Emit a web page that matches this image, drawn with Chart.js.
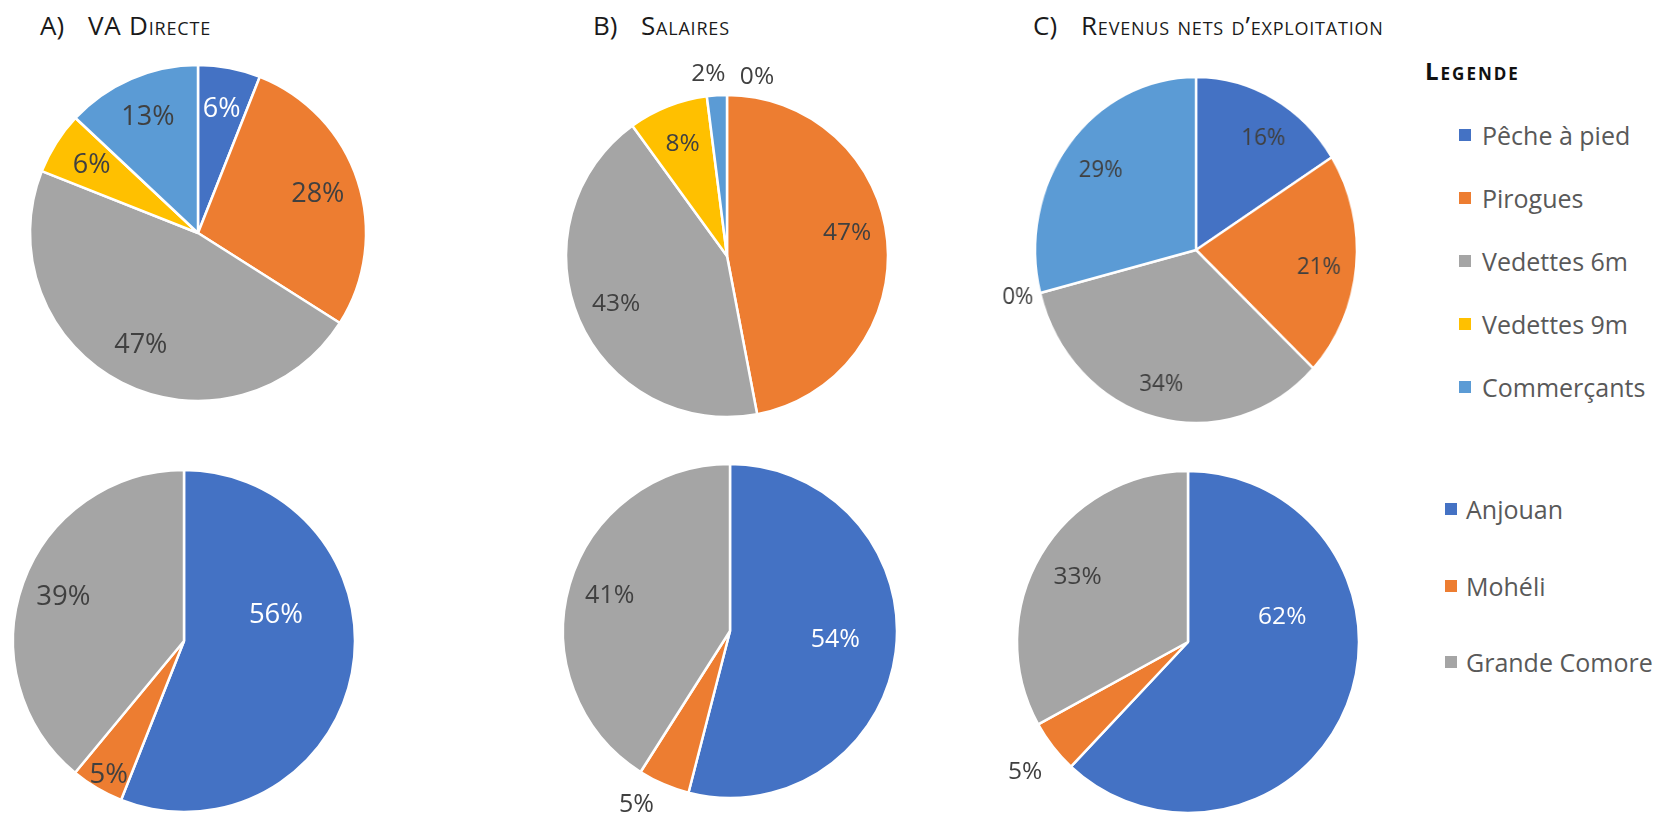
<!DOCTYPE html>
<html lang="fr">
<head>
<meta charset="utf-8">
<title>Répartition par activité et par île</title>
<script src="https://cdn.jsdelivr.net/npm/chart.js@4/dist/chart.umd.min.js"></script>
<style>
  html, body {
    margin: 0;
    padding: 0;
    background: #fff;
    width: 1656px;
    height: 815px;
    overflow: hidden;
    position: relative;
    font-family: "Open Sans", sans-serif;
  }
  canvas {
    position: absolute;
  }
  .titre {
    position: absolute;
    top: 12px;
    font-size: 26px;
    line-height: 26px;
    color: #1a1a1a;
    white-space: nowrap;
  }
  .titre .nom {
    font-variant: small-caps;
    letter-spacing: 0.8px;
  }
  .legende {
    position: absolute;
    color: #595959;
    font-size: 25px;
  }
  .legende .entete {
    position: absolute;
    font-weight: bold;
    font-variant: small-caps;
    letter-spacing: 2px;
    color: #111;
    font-size: 24px;
    line-height: 24px;
    white-space: nowrap;
  }
  .legende .ligne {
    display: flex;
    align-items: center;
    white-space: nowrap;
  }
  .legende .carre {
    width: 12px;
    height: 12px;
    flex: none;
  }
</style>
</head>
<body>

<div class="titre" style="left:40px">A)</div>
<div class="titre" style="left:88px"><span class="nom">VA Directe</span></div>
<div class="titre" style="left:593px">B)</div>
<div class="titre" style="left:641px"><span class="nom">Salaires</span></div>
<div class="titre" style="left:1033px">C)</div>
<div class="titre" style="left:1081px"><span class="nom">Revenus nets d’exploitation</span></div>

<div class="legende" id="legende-activites" style="left:1459px; top:103px">
  <div class="entete" style="left:-34px; top:-44px">Legende</div>
</div>
<div class="legende" id="legende-iles" style="left:1445px; top:471px"></div>

<canvas id="pie-va-activites"></canvas>
<canvas id="pie-salaires-activites"></canvas>
<canvas id="pie-revenus-activites"></canvas>
<canvas id="pie-va-iles"></canvas>
<canvas id="pie-salaires-iles"></canvas>
<canvas id="pie-revenus-iles"></canvas>

<script>
// catégories
const activites = ["Pêche à pied", "Pirogues", "Vedettes 6m", "Vedettes 9m", "Commerçants"];
const iles = ["Anjouan", "Mohéli", "Grande Comore"];

// parts en % par activité
const vaDirecteActivites = [6, 28, 47, 6, 13];
const salairesActivites = [0, 47, 43, 8, 2];
const revenusActivites = [16, 21, 34, 0, 29];

// parts en % par île
const vaDirecteIles = [56, 5, 39];
const salairesIles = [54, 5, 41];
const revenusIles = [62, 5, 33];

const couleursActivites = ["#4472C4", "#ED7D31", "#A5A5A5", "#FFC000", "#5B9BD5"];
const couleursIles = ["#4472C4", "#ED7D31", "#A5A5A5"];

const CANVAS_SIZE = 440;

// étiquettes de pourcentage posées sur chaque part
const sliceLabels = {
  id: "sliceLabels",
  afterDatasetsDraw(chart, args, opts) {
    const { ctx } = chart;
    const meta = chart.getDatasetMeta(0);
    const values = chart.data.datasets[0].data;
    ctx.save();
    ctx.font = `${opts.size}px "Open Sans"`;
    ctx.textAlign = "center";
    ctx.textBaseline = "middle";
    meta.data.forEach((arc, i) => {
      const { x, y, startAngle, endAngle, outerRadius } = arc.getProps(
        ["x", "y", "startAngle", "endAngle", "outerRadius"],
        true
      );
      const mid = (startAngle + endAngle) / 2;
      const dx = Math.cos(mid);
      const dy = Math.sin(mid);
      const text = values[i] + "%";
      let px, py;
      if (opts.outside.includes(i)) {
        const w = ctx.measureText(text).width;
        const d = outerRadius + 8;
        px = x + dx * d + (dx * w) / 2;
        py = y + dy * d + dy * opts.size * 0.4;
      } else {
        px = x + dx * outerRadius * 0.75;
        py = y + dy * outerRadius * 0.75;
      }
      const nudge = opts.nudge[i] || [0, 0];
      ctx.fillStyle = opts.light.includes(i) ? "#ffffff" : "#404040";
      ctx.fillText(text, px + nudge[0], py + nudge[1]);
    });
    ctx.restore();
  },
};

function drawPie(id, labels, values, colors, cx, cy, radius, labelOpts) {
  const canvas = document.getElementById(id);
  canvas.width = CANVAS_SIZE;
  canvas.height = CANVAS_SIZE;
  canvas.style.left = cx - CANVAS_SIZE / 2 + "px";
  canvas.style.top = cy - CANVAS_SIZE / 2 + "px";

  return new Chart(canvas, {
    type: "pie",
    data: {
      labels: labels,
      datasets: [
        {
          data: values,
          backgroundColor: colors,
          borderColor: "#ffffff",
          borderWidth: 2.5,
        },
      ],
    },
    options: {
      responsive: false,
      animation: false,
      events: [],
      radius: radius,
      plugins: {
        legend: { display: false },
        tooltip: { enabled: false },
        sliceLabels: Object.assign({ outside: [], nudge: {}, light: [] }, labelOpts),
      },
    },
    plugins: [sliceLabels],
  });
}

drawPie("pie-va-activites", activites, vaDirecteActivites, couleursActivites, 198, 233, 168, {
  size: 27,
  light: [0],
});
drawPie("pie-salaires-activites", activites, salairesActivites, couleursActivites, 727, 256, 161, {
  size: 24.5,
  outside: [0, 4],
  nudge: { 0: [30, 0], 1: [0, -12], 4: [-7, -4] },
});
const revenusChart = drawPie("pie-revenus-activites", activites, revenusActivites, couleursActivites, 1196, 250, 173, {
  size: 24,
  outside: [3],
  nudge: { 0: [10, 2], 1: [3, 5], 2: [-5, 8] },
});
revenusChart.canvas.style.transform = "scaleX(0.93)";

drawPie("pie-va-iles", iles, vaDirecteIles, couleursIles, 184, 641, 171, {
  size: 27.5,
  light: [0],
  nudge: { 0: [-34, -50], 1: [-10, 24] },
});
drawPie("pie-salaires-iles", iles, salairesIles, couleursIles, 730, 631, 167, {
  size: 25,
  light: [0],
  outside: [1],
  nudge: { 0: [-19, -7], 1: [-17, 4] },
});
drawPie("pie-revenus-iles", iles, revenusIles, couleursIles, 1188, 642, 171, {
  size: 24.5,
  light: [0],
  outside: [1],
  nudge: { 0: [-25, -72], 1: [-8, 14] },
});

// légendes communes, construites à partir des catégories
function buildLegend(containerId, labels, colors, rowHeight, gap) {
  const container = document.getElementById(containerId);
  labels.forEach((label, i) => {
    const row = document.createElement("div");
    row.className = "ligne";
    row.style.height = rowHeight + "px";
    const box = document.createElement("span");
    box.className = "carre";
    box.style.background = colors[i];
    box.style.marginRight = gap + "px";
    const text = document.createElement("span");
    text.textContent = label;
    row.appendChild(box);
    row.appendChild(text);
    container.appendChild(row);
  });
}

buildLegend("legende-activites", activites, couleursActivites, 63, 11);
buildLegend("legende-iles", iles, couleursIles, 76.5, 9);
</script>
</body>
</html>
